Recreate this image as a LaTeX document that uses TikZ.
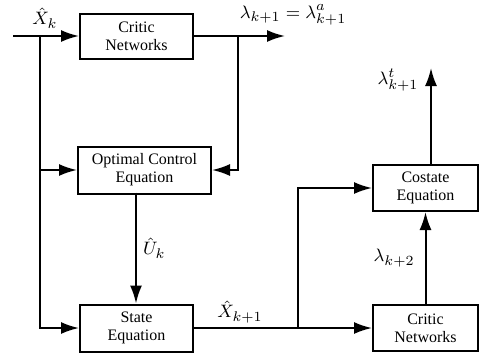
\documentclass[tikz,border=0pt]{standalone}
\usepackage{fontspec}
\setmainfont{Liberation Serif}
\usepackage{amsmath}
\usetikzlibrary{arrows.meta,calc}

\begin{document}
\begin{tikzpicture}[x=0.5pt,y=-0.5pt,
    font=\fontsize{8}{9}\selectfont,
    box/.style={draw,line width=1pt,align=center,inner sep=1pt},
    flow/.style={line width=1pt,-{Latex[length=9pt,width=6pt]}},
    lbl/.style={font=\fontsize{9.5}{11}\selectfont,inner sep=1pt}]
        \useasboundingbox (0,0) rectangle (480,354);

        % blocks
        \node[box,minimum width=56.5pt,minimum height=22.5pt] (critic) at (136.5,36) {Critic\\Networks};
        \node[box,minimum width=66.5pt,minimum height=23.5pt] (opt) at (144.5,170) {Optimal Control\\Equation};
        \node[box,minimum width=56.5pt,minimum height=23.5pt] (state) at (136.5,328) {State\\Equation};
        \node[box,minimum width=52.5pt,minimum height=23pt] (costate) at (425.5,188) {Costate\\Equation};
        \node[box,minimum width=52.5pt,minimum height=23pt] (critictwo) at (425.5,328) {Critic\\Networks};

        \coordinate (xin) at (13,36);
        \coordinate (xsplit) at (40,36);
        \coordinate (lamout) at (285,36);
        \coordinate (lamsplit) at (238,36);
        \coordinate (usrc) at (136,192.5);
        \coordinate (xnsplit) at (298,328);
        \coordinate (lamtgt) at (431,68);

        % left half
        \draw[flow] (xin) -- (critic.west);
        \draw[flow] (xsplit) |- (state.west);
        \draw[flow] (xsplit |- opt.west) -- (opt.west);
        \draw[flow] (critic.east) -- (lamout);
        \draw[flow] (lamsplit) |- (opt.east);
        \draw[flow] (usrc) -- (usrc |- state.north)
            node[lbl,midway,right,xshift=2pt] {$\hat{U}_{k}$};

        % right half
        \draw[flow] (state.east) -- (critictwo.west);
        \draw[flow] (xnsplit) |- (costate.west);
        \draw[flow] (critictwo.north) -- (costate.south)
            node[lbl,midway,left,xshift=-4pt] {$\lambda_{k+2}$};
        \draw[flow] (costate.north -| lamtgt) -- (lamtgt);

        % labels
        \node[lbl] (xklbl) at (45,18) {$\hat{X}_{k}$};
        \node[lbl] (lamlbl) at (293,15) {$\lambda_{k+1}=\lambda^{a}_{k+1}$};
        \node[lbl] (lamtlbl) at (398,80) {$\lambda^{t}_{k+1}$};
        \node[lbl] (xnlbl) at (240,312) {$\hat{X}_{k+1}$};
\end{tikzpicture}
\end{document}
